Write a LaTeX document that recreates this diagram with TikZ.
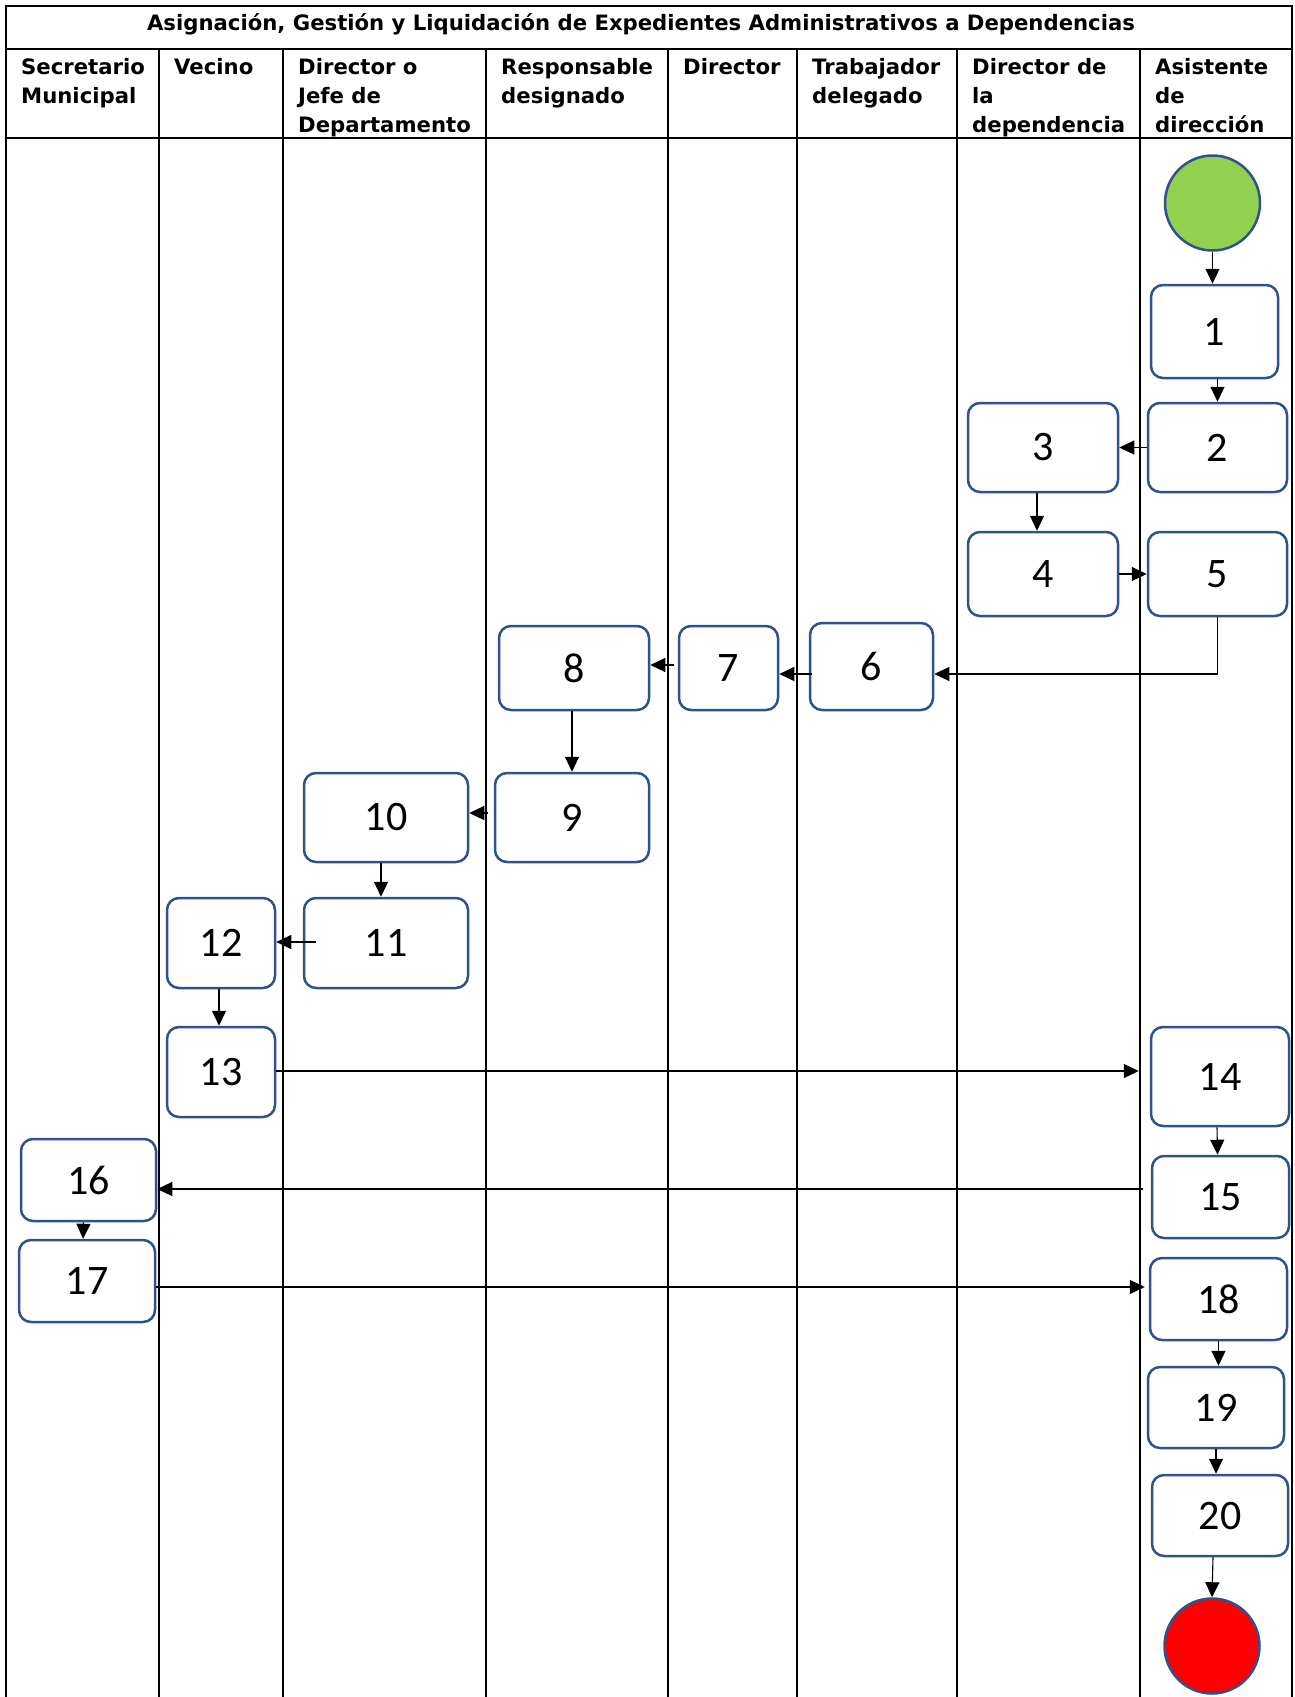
\documentclass[tikz,border=0pt]{standalone}
\usepackage{fontspec}
\setmainfont{Carlito}
\newfontfamily\hdfont{DejaVu Sans}
\usepackage{xcolor}
\definecolor{boxblue}{HTML}{2F528F}
\definecolor{startgreen}{HTML}{92D050}
\definecolor{endred}{HTML}{FF0000}
\usepackage{tikz}
\usetikzlibrary{arrows.meta,calc}

\begin{document}
\begin{tikzpicture}[
  x=1pt, y=-1pt,
  lane/.style={line width=2.3pt, color=black},
  head/.style={font=\hdfont\bfseries\fontsize{21.2}{29}\selectfont, anchor=base west, align=left, inner sep=0pt},
  stepbox/.style={rectangle, rounded corners=12pt, draw=boxblue, line width=2.5pt, fill=white,
                  font=\fontsize{42}{42}\selectfont, inner sep=0pt},
  terminal/.style={circle, draw=boxblue, line width=2.5pt, minimum size=95pt, inner sep=0pt},
  flow/.style={-{Triangle[length=15pt,width=14pt]}, line width=1.1pt, color=black}
]
\useasboundingbox (0,0) rectangle (1294,1697);

% Table frame and lanes
\draw[lane] (6,1697) -- (6,6) -- (1292,6) -- (1292,1697);
\draw[lane] (6,49) -- (1292,49);
\draw[lane] (6,138) -- (1292,138);
\foreach \x in {159,283,486,668,797,957,1140}
  \draw[lane] (\x,49) -- (\x,1697);

% Title and lane headers (placed on the baseline of their last line)
\node[head, anchor=base] (title) at (641,30)
  {Asignación, Gestión y Liquidación de Expedientes Administrativos a Dependencias};
\node[head] (hSec) at (21,103) {Secretario\\Municipal};
\node[head] (hVec) at (174,74) {Vecino};
\node[head] (hJef) at (298,132) {Director o\\Jefe de\\Departamento};
\node[head] (hRes) at (501,103) {Responsable\\designado};
\node[head] (hDir) at (683,74) {Director};
\node[head] (hTra) at (812,103) {Trabajador\\delegado};
\node[head] (hDep) at (972,132) {Director de\\la\\dependencia};
\node[head] (hAsi) at (1155,132) {Asistente\\de\\dirección};

% Start and end
\node[terminal, fill=startgreen] (start) at (1212.5,203) {};
\node[terminal, fill=endred] (end) at (1212,1646) {};

% Steps
\node[stepbox, minimum width=127pt, minimum height=93pt] (n1) at (1214.5,331.5) {1};
\node[stepbox, minimum width=139pt, minimum height=89pt] (n2) at (1217.5,447.5) {2};
\node[stepbox, minimum width=150pt, minimum height=89pt] (n3) at (1043,447.5) {3};
\node[stepbox, minimum width=150pt, minimum height=84pt] (n4) at (1043,574) {4};
\node[stepbox, minimum width=139pt, minimum height=84pt] (n5) at (1217.5,574) {5};
\node[stepbox, minimum width=123pt, minimum height=87pt] (n6) at (871.5,666.5) {6};
\node[stepbox, minimum width=99pt, minimum height=84pt] (n7) at (728.5,668) {7};
\node[stepbox, minimum width=150pt, minimum height=84pt] (n8) at (574,668) {8};
\node[stepbox, minimum width=154pt, minimum height=89pt] (n9) at (572,817.5) {9};
\node[stepbox, minimum width=164pt, minimum height=89pt] (n10) at (386,817.5) {10};
\node[stepbox, minimum width=164pt, minimum height=90pt] (n11) at (386,943) {11};
\node[stepbox, minimum width=108pt, minimum height=90pt] (n12) at (221,943) {12};
\node[stepbox, minimum width=108pt, minimum height=90pt] (n13) at (221,1072) {13};
\node[stepbox, minimum width=138pt, minimum height=99pt] (n14) at (1220,1076.5) {14};
\node[stepbox, minimum width=137pt, minimum height=82pt] (n15) at (1220.5,1197) {15};
\node[stepbox, minimum width=135pt, minimum height=82pt] (n16) at (88.5,1180) {16};
\node[stepbox, minimum width=136pt, minimum height=82pt] (n17) at (87,1281) {17};
\node[stepbox, minimum width=137pt, minimum height=82pt] (n18) at (1218.5,1299) {18};
\node[stepbox, minimum width=136pt, minimum height=81pt] (n19) at (1216,1407.5) {19};
\node[stepbox, minimum width=136pt, minimum height=81pt] (n20) at (1220,1515.5) {20};

% Connectors
\draw[flow] (start.south) -- (start.south |- n1.north);
\draw[flow] (n2.north |- n1.south) -- (n2.north);
\draw[flow] (n2.west) -- (n3.east);
\draw[flow] ($(n3.south)+(-6,0)$) -- ($(n4.north)+(-6,0)$);
\draw[flow] (n4.east) -- (n5.west);
\draw[flow] (n5.south) |- ($(n6.east)+(0,7.5)$);
\draw[flow] ($(n6.west)+(3,7.5)$) -- ($(n7.east)+(0,6)$);
\draw[flow] ($(n7.west)+(-4,-3)$) -- ($(n8.east)+(0,-3)$);
\draw[flow] (n9.north |- n8.south) -- (n9.north);
\draw[flow] ($(n9.west)+(-6,-4.5)$) -- ($(n10.east)+(0,-4.5)$);
\draw[flow] ($(n10.south)+(-5,0)$) -- ($(n11.north)+(-5,0)$);
\draw[flow] ($(n11.west)+(13,-1)$) -- ($(n12.east)+(0,-1)$);
\draw[flow] ($(n12.south)+(-2,0)$) -- ($(n13.north)+(-2,0)$);
\draw[flow] ($(n13.east)+(0,-1)$) -- ($(n14.west)+(-11,-5.5)$);
\draw[flow] ($(n14.south)+(-3,0)$) -- ($(n15.north)+(-3,0)$);
\draw[flow] ($(n15.west)+(-8,-8)$) -- ($(n16.east)+(0,9)$);
\draw[flow] ($(n16.south)+(-5,0)$) -- ($(n17.north)+(-4,0)$);
\draw[flow] ($(n17.east)+(0,6)$) -- ($(n18.west)+(-4,-12)$);
\draw[flow] (n18.south) -- (n19.north -| n18.south);
\draw[flow] (n19.south) -- (n20.north -| n19.south);
\draw[flow] ($(n20.south)+(-7,0)$) -- (end.north);

\end{tikzpicture}
\end{document}
